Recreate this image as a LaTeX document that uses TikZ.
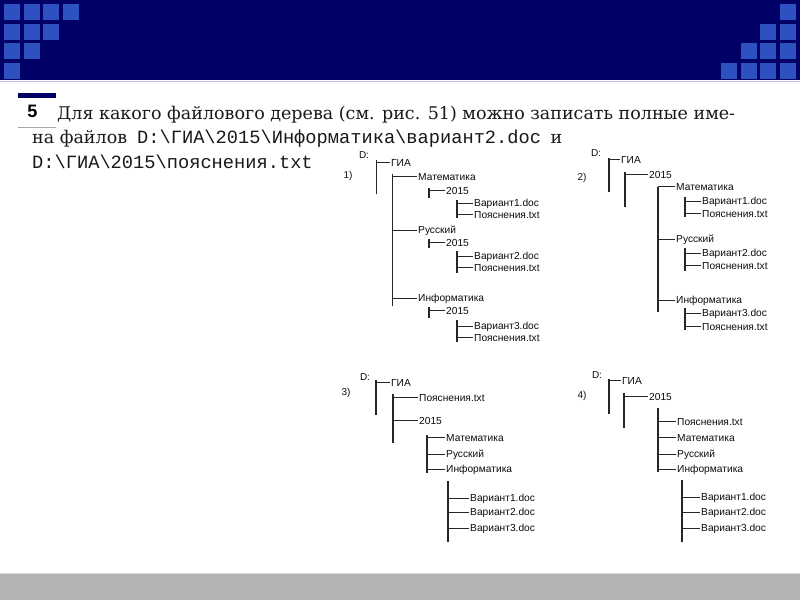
\documentclass[tikz,border=0pt]{standalone}
\usepackage{fontspec}
\usetikzlibrary{positioning}
\newfontfamily\treefont{Liberation Sans}
\newfontfamily\qserif{DejaVu Serif}
\newfontfamily\qmono{Liberation Mono}
\definecolor{banner}{HTML}{000066}
\definecolor{tile}{HTML}{2D52C0}
\definecolor{footgray}{HTML}{B3B3B3}
\newcommand{\bs}{\textbackslash}

\begin{document}
\begin{tikzpicture}[x=1pt, y=-1pt,
    lbl/.style={font=\treefont\fontsize{10.2}{12}\selectfont, text=black!95, anchor=mid west, inner sep=1pt},
    tag/.style={font=\treefont\fontsize{10}{12}\selectfont, text=black!95, inner sep=0pt},
    bar/.style={draw=black!85, line width=1.35pt},
    qline/.style={font=\qserif\fontsize{17.5}{20}\selectfont, text=black!90, anchor=base west, inner sep=0pt},
]
\useasboundingbox (0,0) rectangle (800,600);
\fill[white] (0,0) rectangle (800,600);

% slide frame
\fill[banner] (0,0) rectangle (800,80);
\draw[blue!25!white, line width=1pt] (0,81) -- (800,81);
\foreach \j in {0,...,3} {
    \pgfmathtruncatemacro{\n}{3-\j}
    \foreach \i in {0,...,\n}
        \fill[tile] (4+19.6*\i, 4+19.5*\j) rectangle ++(16,16);
    \foreach \i in {0,...,\j}
        \fill[tile] (780-19.6*\i, 4+19.5*\j) rectangle ++(16,16);
}
\fill[footgray] (0,574) rectangle (800,600);
\draw[black!15, line width=1pt] (0,573) -- (800,573);

% task text
\fill[banner] (18,93) rectangle (56,98);
\draw[black!35, line width=0.6pt] (18,127) -- (56,127);
\node[font=\treefont\bfseries\fontsize{18}{20}\selectfont, inner sep=0pt] (num) at (32.5,111.5) {5};
\node[qline] (q1) at (57,119) {Для какого файлового дерева (см. рис. 51) можно записать полные име-};
\node[qline] (q2) at (32,143) {на файлов\hspace{10pt}{\qmono\fontsize{18.7}{20}\selectfont D:\bs ГИА\bs 2015\bs Информатика\bs вариант2.doc}\hspace{4pt} и};
\node[qline, font=\qmono\fontsize{18.7}{20}\selectfont] (q3) at (32,168) {D:\bs ГИА\bs 2015\bs пояснения.txt};

% tree labels
\foreach \nm/\x/\y/\txt in {d1/364/155/D:, t1/348/176/1), d2/596/153/D:, t2/582/178/2),
    d3/365/377/D:, t3/346/393/3), d4/597/375/D:, t4/582/396/4)}
    \node[tag] (\nm) at (\x,\y) {\txt};

% vertical bars
\foreach \bn/\x/\ya/\yb in {b1a/376.7/160/194, b1b/392.7/174/306, b1c/429/188/198, b1d/457/200/218,
    b1e/429/239/248, b1f/457/251/273, b1g/429/307/318, b1h/457/320/342,
    b2a/609/158/192, b2b/625/172/207, b2c/658/187/312, b2d/685/197/217, b2e/685/248/271, b2f/685/308/330,
    b3a/376/380/415, b3b/393/394/443, b3c/427/435/473, b3d/448/481/542,
    b4a/609/379/414, b4b/624/393/428, b4c/658/408/472, b4d/682/480/542} {
    \coordinate (\bn) at (\x,\ya);
    \draw[bar] (\bn) -- (\x,\yb);
}

% tree 1
\foreach \nm/\x/\y/\txt/\bn in {gia1/390/164/ГИА/b1a, mat1/417/178/Математика/b1b,
    ya1/445/192/2015/b1c, va1/473/204/Вариант1.doc/b1d, pa1/473/216/Пояснения.txt/b1d,
    rus1/417/231/Русский/b1b, yb1/445/244/2015/b1e, vb1/473/257/Вариант2.doc/b1f, pb1/473/269/Пояснения.txt/b1f,
    inf1/417/299/Информатика/b1b, yc1/445/312/2015/b1g, vc1/473/327/Вариант3.doc/b1h, pc1/473/339/Пояснения.txt/b1h} {
    \node[lbl] (\nm) at (\x,\y) {\txt};
    \draw[bar] (\nm.west) -- (\nm.west -| \bn);
}

% tree 2
\foreach \nm/\x/\y/\txt/\bn in {gia2/620/161/ГИА/b2a, y2/648/176/2015/b2b,
    mat2/675/188/Математика/b2c, va2/701/202/Вариант1.doc/b2d, pa2/701/215/Пояснения.txt/b2d,
    rus2/675/240/Русский/b2c, vb2/701/254/Вариант2.doc/b2e, pb2/701/267/Пояснения.txt/b2e,
    inf2/675/301/Информатика/b2c, vc2/701/314/Вариант3.doc/b2f, pc2/701/328/Пояснения.txt/b2f} {
    \node[lbl] (\nm) at (\x,\y) {\txt};
    \draw[bar] (\nm.west) -- (\nm.west -| \bn);
}

% tree 3
\foreach \nm/\x/\y/\txt/\bn in {gia3/390/384/ГИА/b3a, p3/418/399/Пояснения.txt/b3b, y3/418/422/2015/b3b,
    mat3/445/439/Математика/b3c, rus3/445/455/Русский/b3c, inf3/445/470/Информатика/b3c,
    va3/469/499/Вариант1.doc/b3d, vb3/469/513/Вариант2.doc/b3d, vc3/469/529/Вариант3.doc/b3d} {
    \node[lbl] (\nm) at (\x,\y) {\txt};
    \draw[bar] (\nm.west) -- (\nm.west -| \bn);
}

% tree 4
\foreach \nm/\x/\y/\txt/\bn in {gia4/621/382/ГИА/b4a, y4/648/398/2015/b4b,
    p4/676/423/Пояснения.txt/b4c, mat4/676/439/Математика/b4c, rus4/676/455/Русский/b4c, inf4/676/470/Информатика/b4c,
    va4/700/498/Вариант1.doc/b4d, vb4/700/513/Вариант2.doc/b4d, vc4/700/529/Вариант3.doc/b4d} {
    \node[lbl] (\nm) at (\x,\y) {\txt};
    \draw[bar] (\nm.west) -- (\nm.west -| \bn);
}
\end{tikzpicture}
\end{document}
